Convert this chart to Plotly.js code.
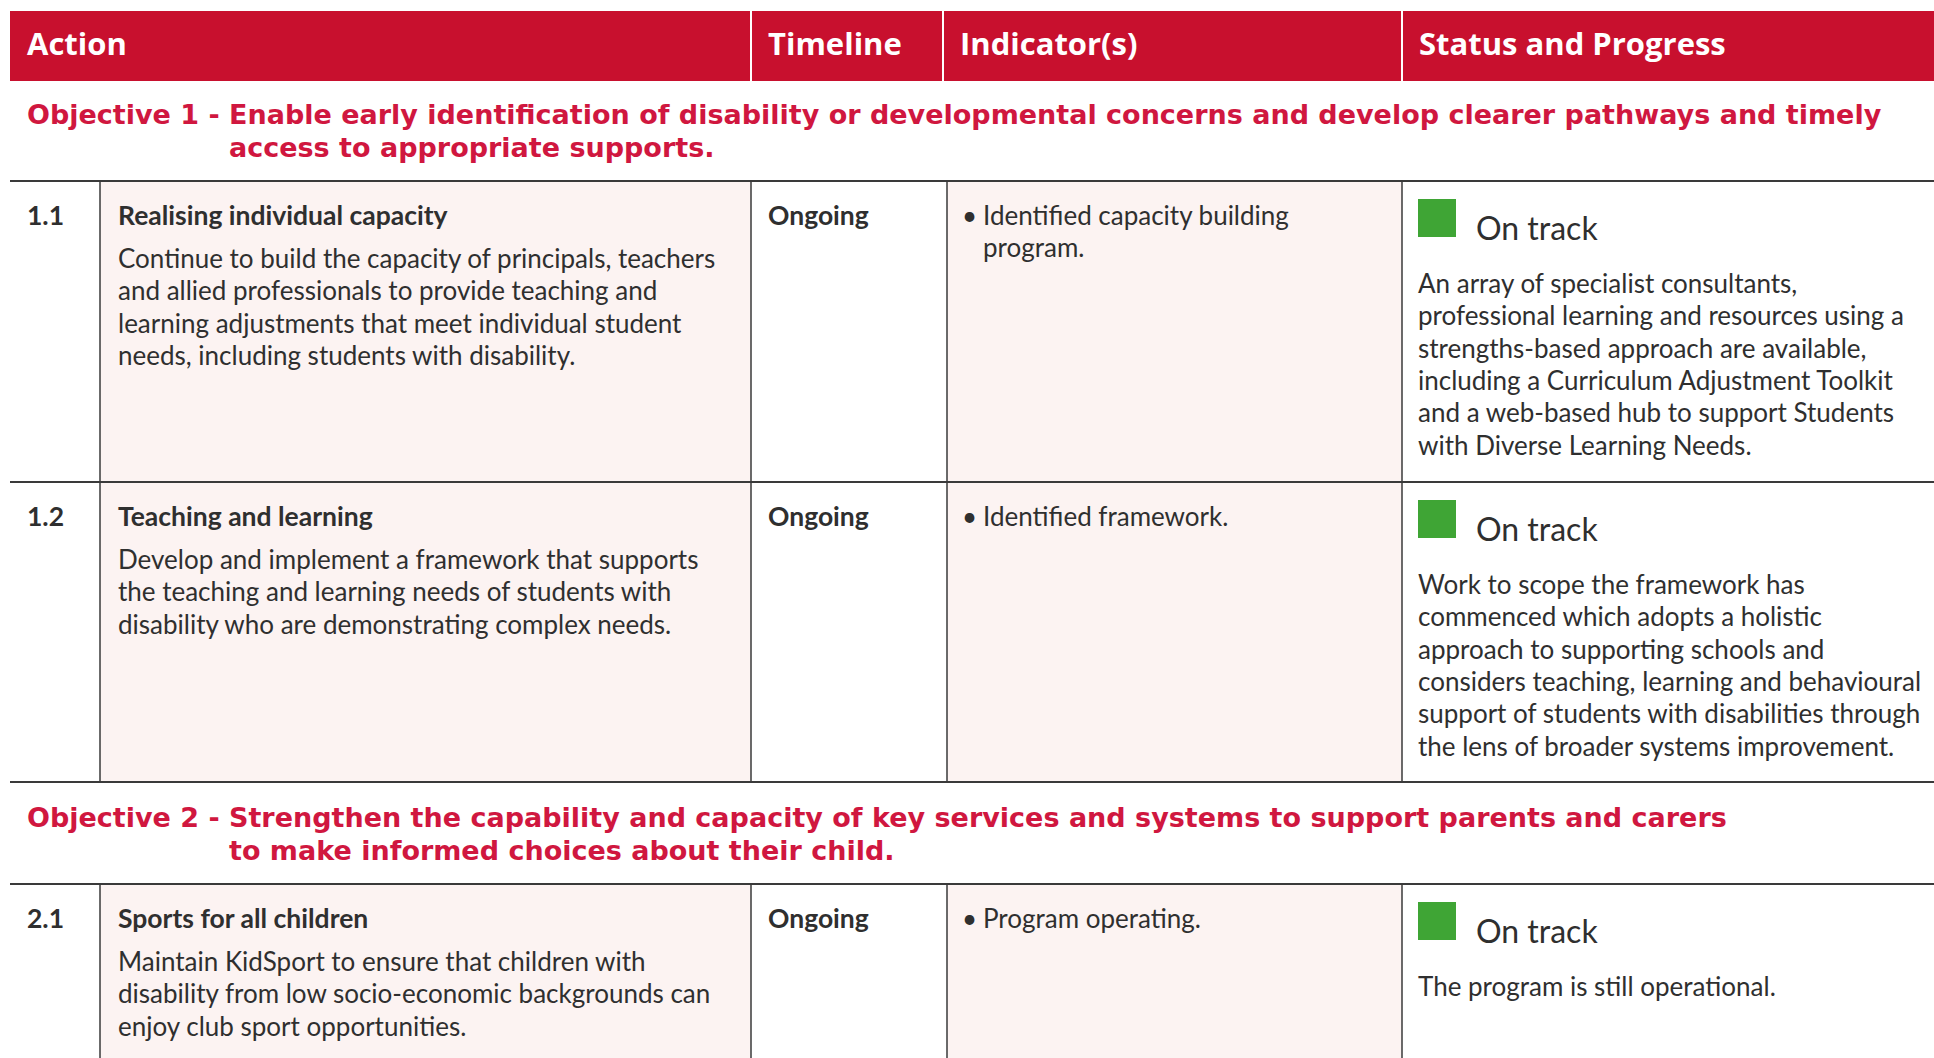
<!DOCTYPE html>
<html><head><meta charset="utf-8">
<script src="https://cdn.plot.ly/plotly-3.0.1.min.js"></script>
<style>html,body{margin:0;padding:0;background:#fff;overflow:hidden}</style>
</head><body><div id="chart" style="width:1934px;height:1058px"></div>
<script>
// ---------------- data ----------------
const columnHeaders = ["Action", "Timeline", "Indicator(s)", "Status and Progress"];
const objectivePrefixes = ["Objective 1 -", "Objective 2 -"];
const objectiveLines = [
  ["Enable early identification of disability or developmental concerns and develop clearer pathways and timely",
   "access to appropriate supports."],
  ["Strengthen the capability and capacity of key services and systems to support parents and carers",
   "to make informed choices about their child."]
];
const actionIds = ["1.1", "1.2", "2.1"];
const actionObjective = [0, 0, 1];
const actionTitles = ["Realising individual capacity", "Teaching and learning", "Sports for all children"];
const actionDescriptions = [
  ["Continue to build the capacity of principals, teachers",
   "and allied professionals to provide teaching and",
   "learning adjustments that meet individual student",
   "needs, including students with disability."],
  ["Develop and implement a framework that supports",
   "the teaching and learning needs of students with",
   "disability who are demonstrating complex needs."],
  ["Maintain KidSport to ensure that children with",
   "disability from low socio-economic backgrounds can",
   "enjoy club sport opportunities."]
];
const timelines = ["Ongoing", "Ongoing", "Ongoing"];
const indicators = [
  ["Identified capacity building", "program."],
  ["Identified framework."],
  ["Program operating."]
];
const statuses = ["On track", "On track", "On track"];
const progressNotes = [
  ["An array of specialist consultants,",
   "professional learning and resources using a",
   "strengths-based approach are available,",
   "including a Curriculum Adjustment Toolkit",
   "and a web-based hub to support Students",
   "with Diverse Learning Needs."],
  ["Work to scope the framework has",
   "commenced which adopts a holistic",
   "approach to supporting schools and",
   "considers teaching, learning and behavioural",
   "support of students with disabilities through",
   "the lens of broader systems improvement."],
  ["The program is still operational."]
];

// ---------------- styles & geometry ----------------
const W = 1934, H = 1058;
const RED = "#c8102e", OBJ_RED = "#d0173f", PINK = "#fcf3f2", RULE = "#3a3a3a", TEXT = "#2f2f2f";
const statusColors = {"On track": "#3fa535"};
const HEAD_FONT = "Open Sans", OBJ_FONT = "DejaVu Sans", BODY_FONT = "Lato";
const HEAD_SIZE = 31, OBJ_SIZE = 27, BODY_SIZE = 26, TITLE_SIZE = 26.5, STATUS_SIZE = 32;
const geo = {
  headTop: 11, headBottom: 81, headTextY: 43,
  headEdges: [10, 751, 943, 1402, W],
  headPad: 16,
  bodyEdges: [10, 100, 751, 947, 1402, W],
  objHeights: [100, 102],
  rowHeights: [301, 300, 300],
  objX: 26, objTopDy: [17, 19], objGap: 33,
  idX: 26, titleX: 117, timelineX: 767, bulletX: 961, indicatorX: 982,
  squareX: 1437, squareSize: 38, squareDy: 37,
  statusX: 1475, statusDy: 46, noteX: 1417, noteDy: 102,
  firstDy: 34, descDy: 77, lineGap: 32.3
};

const shapes = [], annotations = [];
function txt(x, y, text, size, color, weight, family, anchorY) {
  annotations.push({x: x, y: y, xref: "x", yref: "y", text: text, showarrow: false,
    xanchor: "left", yanchor: anchorY || "middle", align: "left", borderpad: 0,
    font: {family: family || BODY_FONT, size: size, color: color, weight: weight || 400}});
}
function rect(x0, y0, x1, y1, fill) {
  shapes.push({type: "rect", xref: "x", yref: "y", x0: x0, y0: y0, x1: x1, y1: y1,
    fillcolor: fill, line: {width: 0}, layer: "below"});
}
function line(x0, y0, x1, y1, color, width) {
  shapes.push({type: "line", xref: "x", yref: "y", x0: x0, y0: y0, x1: x1, y1: y1,
    line: {color: color, width: width}, layer: "above"});
}

const canvas = document.createElement("canvas").getContext("2d");
function measure(text, size, weight, family) {
  canvas.font = weight + " " + size + "px \"" + family + "\"";
  return canvas.measureText(text).width;
}

// header
rect(geo.headEdges[0], geo.headTop, W, geo.headBottom, RED);
columnHeaders.forEach((h, i) => {
  txt(geo.headEdges[i] + geo.headPad, geo.headTextY, h, HEAD_SIZE, "#ffffff", 700, HEAD_FONT);
  if (i > 0) line(geo.headEdges[i], geo.headTop, geo.headEdges[i], geo.headBottom, "#ffffff", 2);
});

// body
let y = geo.headBottom;
const sqX = [], sqY = [], sqC = [];
objectivePrefixes.forEach((prefix, o) => {
  const top = y;
  const indent = measure(prefix + " ", OBJ_SIZE, 700, OBJ_FONT);
  txt(geo.objX, top + geo.objTopDy[o], prefix, OBJ_SIZE, OBJ_RED, 700, OBJ_FONT, "top");
  objectiveLines[o].forEach((l, k) => {
    txt(geo.objX + indent, top + geo.objTopDy[o] + k * geo.objGap, l, OBJ_SIZE, OBJ_RED, 700, OBJ_FONT, "top");
  });
  y += geo.objHeights[o];
  line(geo.bodyEdges[0], y, W, y, RULE, 2);
  actionIds.forEach((id, r) => {
    if (actionObjective[r] !== o) return;
    const rt = y, rb = y + geo.rowHeights[r];
    rect(geo.bodyEdges[1], rt, geo.bodyEdges[2], rb, PINK);
    rect(geo.bodyEdges[3], rt, geo.bodyEdges[4], rb, PINK);
    [1, 2, 3, 4].forEach(e => line(geo.bodyEdges[e], rt, geo.bodyEdges[e], rb, RULE, 1.5));
    txt(geo.idX, rt + geo.firstDy, id, TITLE_SIZE, TEXT, 700);
    txt(geo.titleX, rt + geo.firstDy, actionTitles[r], TITLE_SIZE, TEXT, 700);
    actionDescriptions[r].forEach((l, k) => txt(geo.titleX, rt + geo.descDy + k * geo.lineGap, l, BODY_SIZE, TEXT, 400));
    txt(geo.timelineX, rt + geo.firstDy, timelines[r], TITLE_SIZE, TEXT, 700);
    txt(geo.bulletX, rt + geo.firstDy, "\u2022", BODY_SIZE, TEXT, 400);
    indicators[r].forEach((l, k) => txt(geo.indicatorX, rt + geo.firstDy + k * geo.lineGap, l, BODY_SIZE, TEXT, 400));
    sqX.push(geo.squareX); sqY.push(rt + geo.squareDy); sqC.push(statusColors[statuses[r]]);
    txt(geo.statusX, rt + geo.statusDy, statuses[r], STATUS_SIZE, TEXT, 400);
    progressNotes[r].forEach((l, k) => txt(geo.noteX, rt + geo.noteDy + k * geo.lineGap, l, BODY_SIZE, TEXT, 400));
    y = rb;
    line(geo.bodyEdges[0], y, W, y, RULE, 2);
  });
});

const traces = [{
  type: "scatter", mode: "markers", x: sqX, y: sqY, hoverinfo: "skip",
  marker: {symbol: "square", size: geo.squareSize, color: sqC, line: {width: 0}}
}];

const layout = {
  width: W, height: H, margin: {l: 0, r: 0, t: 0, b: 0, pad: 0},
  paper_bgcolor: "#ffffff", plot_bgcolor: "#ffffff", showlegend: false,
  xaxis: {range: [0, W], visible: false, fixedrange: true},
  yaxis: {range: [H, 0], visible: false, fixedrange: true},
  shapes: shapes, annotations: annotations
};
Plotly.newPlot("chart", traces, layout, {staticPlot: true, displayModeBar: false});
</script></body></html>
